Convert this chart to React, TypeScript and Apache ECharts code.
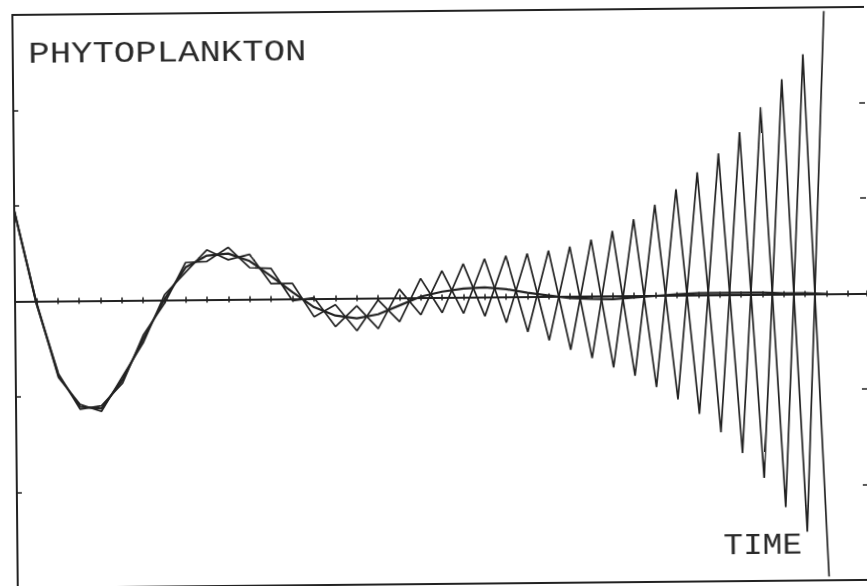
import React, { useEffect, useRef } from "react";
import * as echarts from "echarts";

// Time steps (one per tick on the time axis)
const timeSteps = [
  0, 1, 2, 3, 4, 5, 6, 7, 8, 9, 10, 11, 12, 13, 14, 15, 16, 17, 18, 19,
  20, 21, 22, 23, 24, 25, 26, 27, 28, 29, 30, 31, 32, 33, 34, 35, 36, 37, 38,
];

// Well-resolved (damped) phytoplankton solution
const smoothSeries = [
  0.95, -0.02, -0.78, -1.11, -1.13, -0.83, -0.4, 0.01, 0.34, 0.46,
  0.48, 0.4, 0.24, 0.07, -0.09, -0.18, -0.21, -0.17, -0.08, 0.01,
  0.06, 0.09, 0.1, 0.08, 0.04, 0.01, -0.02, -0.03, -0.035, -0.02,
  -0.005, 0.01, 0.02, 0.02, 0.02, 0.02, 0.01, 0.01, 0.0,
];

// Unstable solution, first computational branch
const zigzagA = [
  0.95, -0.03, -0.76, -1.135, -1.1, -0.865, -0.36, -0.035, 0.39, 0.4,
  0.545, 0.33, 0.32, -0.02, 0.01, -0.295, -0.08, -0.32, 0.09, -0.18,
  0.28, -0.17, 0.4, -0.27, 0.45, -0.46, 0.52, -0.65, 0.68, -0.84,
  0.95, -1.09, 1.285, -1.44, 1.7, -1.92, 2.25, -2.49, 2.96,
];

// Unstable solution, second computational branch
const zigzagB = [
  0.95, -0.01, -0.8, -1.085, -1.16, -0.795, -0.44, 0.055, 0.29, 0.52,
  0.415, 0.47, 0.16, 0.16, -0.19, -0.065, -0.34, -0.02, -0.25, 0.2,
  -0.16, 0.35, -0.2, 0.43, -0.37, 0.48, -0.56, 0.59, -0.75, 0.8,
  -0.96, 1.11, -1.245, 1.48, -1.66, 1.96, -2.23, 2.51, -2.96,
];

const yTicks = [-3, -2, -1, 0, 1, 2, 3];

const INK = "#222222";

export default function App() {
  const ref = useRef<HTMLDivElement>(null);

  useEffect(() => {
    if (!ref.current) return;
    const chart = echarts.init(ref.current, undefined, { renderer: "svg" });

    const toPairs = (vals: number[]) => timeSteps.map((t, i) => [t, vals[i]]);

    const baseX = {
      type: "value" as const,
      min: 0,
      max: 39.9,
      interval: 1,
      axisLabel: { show: false },
      splitLine: { show: false },
    };
    const baseY = {
      type: "value" as const,
      min: yTicks[0],
      max: yTicks[yTicks.length - 1],
      interval: 1,
      axisLabel: { show: false },
      splitLine: { show: false },
    };
    const frameLine = { show: true, onZero: false, lineStyle: { color: INK, width: 2 } };

    chart.setOption({
      animation: false,
      backgroundColor: "#ffffff",
      grid: {
        left: 15,
        right: 0,
        top: 11,
        bottom: 2,
        show: false,
      },
      xAxis: [
        {
          ...baseX,
          position: "bottom",
          axisLine: { show: true, onZero: true, onZeroAxisIndex: 0, lineStyle: { color: INK, width: 2 } },
          axisTick: { show: true, inside: false, length: 3, lineStyle: { color: INK, width: 1.5 } },
        },
        {
          ...baseX,
          position: "bottom",
          axisLine: { show: true, onZero: true, onZeroAxisIndex: 0, lineStyle: { color: INK, width: 2 } },
          axisTick: { show: true, inside: true, length: 3, lineStyle: { color: INK, width: 1.5 } },
        },
        {
          ...baseX,
          position: "top",
          axisLine: frameLine,
          axisTick: { show: false },
        },
        {
          ...baseX,
          position: "bottom",
          axisLine: frameLine,
          axisTick: { show: false },
        },
      ],
      yAxis: [
        {
          ...baseY,
          position: "left",
          axisLine: frameLine,
          axisTick: { show: true, inside: true, length: 5, lineStyle: { color: INK, width: 1.5 } },
        },
        {
          ...baseY,
          position: "right",
          axisLine: { show: false, onZero: false },
          axisTick: { show: true, inside: true, length: 6, lineStyle: { color: INK, width: 1.5 } },
        },
      ],
      series: [
        {
          name: "zigzag A",
          type: "line",
          data: toPairs(zigzagA),
          symbol: "none",
          lineStyle: { color: INK, width: 1.7 },
        },
        {
          name: "zigzag B",
          type: "line",
          data: toPairs(zigzagB),
          symbol: "none",
          lineStyle: { color: INK, width: 1.7 },
        },
        {
          name: "smooth",
          type: "line",
          data: toPairs(smoothSeries),
          symbol: "none",
          lineStyle: { color: INK, width: 2.2 },
        },
      ],
      graphic: [
        {
          type: "text",
          x: 30.5,
          y: 51.5,
          scaleX: 1.23,
          style: {
            text: "PHYTOPLANKTON",
            fontFamily: "Liberation Mono",
            fontSize: 29,
            fill: "#2a2a2a",
            textVerticalAlign: "middle",
          },
        },
        {
          type: "text",
          x: 721,
          y: 549,
          scaleX: 1.13,
          style: {
            text: "TIME",
            fontFamily: "Liberation Mono",
            fontSize: 29,
            fill: "#2a2a2a",
            textVerticalAlign: "middle",
          },
        },
      ],
    });

    return () => chart.dispose();
  }, []);

  return (
    <div
      ref={ref}
      style={{
        position: "fixed",
        left: 0,
        top: 0,
        width: 867,
        height: 586,
        background: "#fff",
        transform: "rotate(-0.54deg)",
      }}
    />
  );
}
